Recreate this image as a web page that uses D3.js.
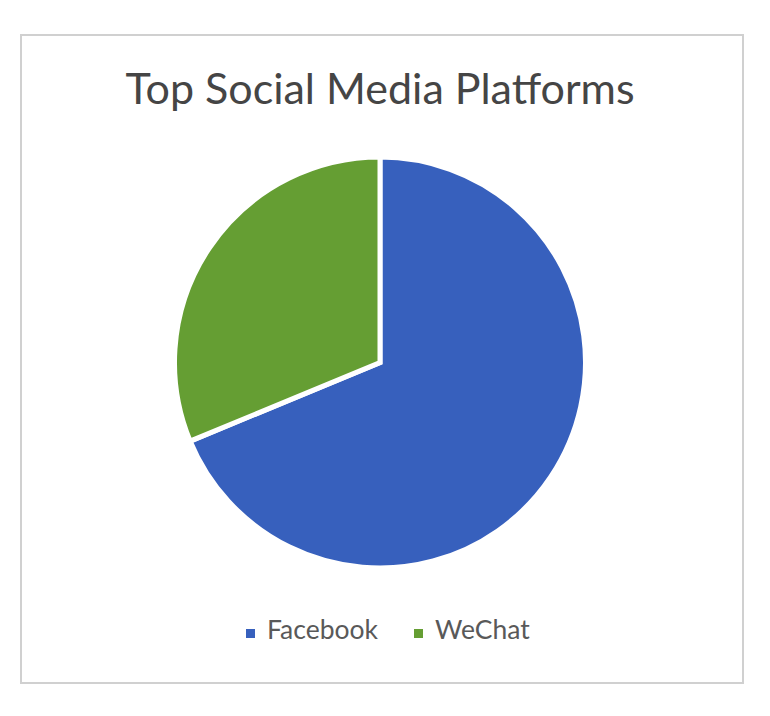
<!DOCTYPE html>
<html>
<head>
<meta charset="utf-8">
<script src="https://cdn.jsdelivr.net/npm/d3@7"></script>
<style>
  body { margin: 0; background: #fff; }
  svg text { font-family: Lato, "Open Sans", sans-serif; }
</style>
</head>
<body>
<svg></svg>
<script>
// chart data
let platforms = ["Facebook", "WeChat"];
let users = [2200, 1000];
let sliceColors = ["#3760bd", "#659e33"];
let chartTitle = "Top Social Media Platforms";

let width = 770;
let height = 716;
let cx = 380;
let cy = 362.5;
let radius = 205.5;

let svg = d3.select("svg").attr("width", width).attr("height", height);

// chart frame
svg.append("rect")
  .attr("x", 21).attr("y", 35)
  .attr("width", 722).attr("height", 648)
  .attr("fill", "#fff")
  .attr("stroke", "#d0d0d0")
  .attr("stroke-width", 2);

svg.append("text")
  .attr("x", 380).attr("y", 104)
  .attr("text-anchor", "middle")
  .attr("font-size", 43)
  .attr("fill", "#454545")
  .text(chartTitle);

let color = d3.scaleOrdinal().domain(platforms).range(sliceColors);

let pie = d3.pie().sort(null).value((d, i) => users[i]);
let arc = d3.arc().innerRadius(0).outerRadius(radius);

svg.append("g")
  .attr("transform", "translate(" + cx + "," + cy + ")")
  .selectAll("path")
  .data(pie(platforms))
  .enter()
  .append("path")
  .attr("d", arc)
  .attr("fill", (d) => color(d.data))
  .attr("stroke", "#fff")
  .attr("stroke-width", 5)
  .attr("stroke-linejoin", "miter");

// legend
let legendX = [246, 414];
let legend = svg.selectAll(".legend")
  .data(platforms)
  .enter()
  .append("g")
  .attr("class", "legend")
  .attr("transform", (d, i) => "translate(" + legendX[i] + ",629)");

legend.append("rect")
  .attr("width", 9).attr("height", 9)
  .attr("fill", (d) => color(d));

legend.append("text")
  .attr("x", 21).attr("y", 10)
  .attr("font-size", 26.5)
  .attr("fill", "#595959")
  .text((d) => d);
</script>
</body>
</html>
